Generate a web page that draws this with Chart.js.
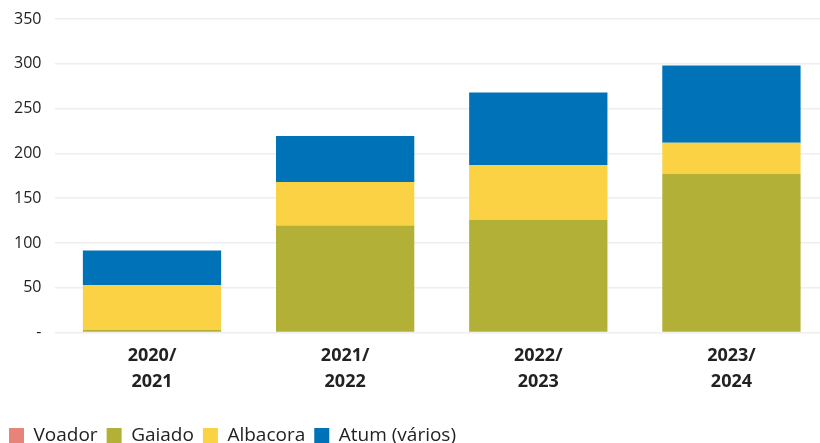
<!DOCTYPE html>
<html>
<head>
<meta charset="utf-8">
<script src="https://cdn.jsdelivr.net/npm/chart.js@4/dist/chart.umd.min.js"></script>
<style>
  html, body { margin: 0; padding: 0; background: #fff; overflow: hidden; }
  #wrap { width: 828px; height: 455px; position: relative; }
</style>
</head>
<body>
<div id="wrap"><canvas id="c"></canvas></div>
<script>
const seasons = [['2020/', '2021'], ['2021/', '2022'], ['2022/', '2023'], ['2023/', '2024']];
const voador   = [0, 0, 1, 0];
const gaiado   = [3, 119.5, 125, 177];
const albacora = [50, 48.5, 61, 35];
const atum     = [38.5, 51.5, 81, 86];
const yTicks   = [0, 50, 100, 150, 200, 250, 300, 350];

const dark = '#222222';
const mk = (label, data, color) => ({
    label, data, backgroundColor: color, borderWidth: 0,
    categoryPercentage: 1, barPercentage: 0.716
});

new Chart(document.getElementById('c'), {
    type: 'bar',
    data: {
        labels: seasons,
        datasets: [
            mk('Voador', voador, '#E8837A'),
            mk('Gaiado', gaiado, '#B2B036'),
            mk('Albacora', albacora, '#FAD243'),
            mk('Atum (vários)', atum, '#0072B7')
        ]
    },
    options: {
        responsive: true,
        maintainAspectRatio: false,
        animation: false,
        layout: { padding: 0 },
        plugins: {
            tooltip: { enabled: false },
            legend: {
                position: 'bottom',
                align: 'start',
                labels: {
                    boxWidth: 15, boxHeight: 15, padding: 9,
                    color: dark,
                    font: { family: 'Open Sans', size: 19 }
                }
            }
        },
        scales: {
            x: {
                stacked: true,
                grid: { display: false },
                border: { display: false },
                afterFit: axis => { axis.height += 19.5; },
                ticks: {
                    color: dark, padding: 2,
                    font: { family: 'Open Sans', size: 18, weight: 'bold', lineHeight: 1.47 }
                }
            },
            y: {
                stacked: true,
                min: 0, max: 350,
                afterBuildTicks: axis => { axis.ticks = yTicks.map(v => ({ value: v })); },
                grid: { color: '#eeeeee', lineWidth: 1.5, drawTicks: false },
                border: { display: false },
                ticks: {
                    color: dark, padding: 14,
                    font: { family: 'Open Sans', size: 16, lineHeight: 0.625 },
                    callback: v => v === 0 ? '-' : v
                }
            }
        }
    }
});
</script>
</body>
</html>
